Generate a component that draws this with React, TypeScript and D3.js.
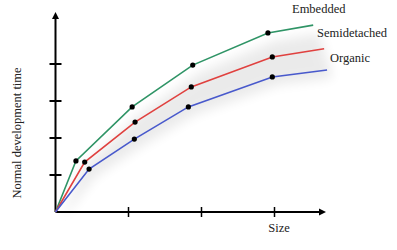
import React from "react";
import * as d3 from "d3";

const xTicks = [1, 2, 3];
const yTicks = [1, 2, 3, 4];
const seriesNames = ["Embedded", "Semidetached", "Organic"];
const embeddedX = [0, 0.28, 1.05, 1.88, 2.91, 3.53];
const embeddedY = [0, 1.38, 2.84, 3.97, 4.84, 5.05];
const semiX = [0, 0.4, 1.09, 1.86, 2.97, 3.68];
const semiY = [0, 1.35, 2.43, 3.38, 4.19, 4.41];
const organicX = [0, 0.46, 1.08, 1.82, 2.97, 3.72];
const organicY = [0, 1.16, 1.97, 2.84, 3.65, 3.84];
const colors = ["#2f9466", "#e0413f", "#4859cc"];
const xLabel = "Size";
const yLabel = "Normal development time";

export default function App() {
  const W = 397, H = 250;
  const x = d3.scaleLinear().domain([0, 4]).range([55.5, 347.5]);
  const y = d3.scaleLinear().domain([0, 4]).range([212, 64]);
  const series = [
    { name: seriesNames[0], xs: embeddedX, ys: embeddedY, color: colors[0] },
    { name: seriesNames[1], xs: semiX, ys: semiY, color: colors[1] },
    { name: seriesNames[2], xs: organicX, ys: organicY, color: colors[2] },
  ];
  const line = d3.line<[number, number]>().x((d) => x(d[0])).y((d) => y(d[1]));
  const pts = (s: any) => s.xs.map((v: number, i: number) => [v, s.ys[i]] as [number, number]);
  const top = pts(series[0]);
  const bot = pts(series[2]);
  const shadowPts = [...top, ...bot.slice().reverse()].map((p) => [x(p[0]) + 6, y(p[1]) + 8]);
  const shadowPath = "M" + shadowPts.map((p) => p.join(",")).join("L") + "Z";
  const font = "'Liberation Serif', 'Times New Roman', serif";
  const labelPos = [
    { x: 292, y: 13 },
    { x: 317, y: 37 },
    { x: 330, y: 62 },
  ];
  const x0 = x(0), y0 = y(0);
  return (
    <svg width={W} height={H} style={{ position: "absolute", left: 0, top: 0 }}>
      <defs>
        <filter id="blur" x="-20%" y="-20%" width="140%" height="140%">
          <feGaussianBlur stdDeviation="6" />
        </filter>
      </defs>
      <rect width={W} height={H} fill="#fff" />
      <path d={shadowPath} fill="#000" opacity={0.08} filter="url(#blur)" />
      <line x1={x0 + 3} y1={y0 + 4} x2={330} y2={y0 + 4} stroke="#000" strokeWidth={6} opacity={0.06} filter="url(#blur)" />
      {/* axes */}
      <line x1={x0} y1={y0} x2={x0} y2={17} stroke="#000" strokeWidth={2} />
      <path d={`M${x0 - 3.5},${19} L${x0},${12} L${x0 + 3.5},${19} Z`} fill="#000" />
      <line x1={x0} y1={y0} x2={321} y2={y0} stroke="#000" strokeWidth={2} />
      <path d={`M${319},${y0 - 3.5} L${326},${y0} L${319},${y0 + 3.5} Z`} fill="#000" />
      {yTicks.map((t) => (
        <line key={"yt" + t} x1={x0 - 6} x2={x0 + 6} y1={y(t)} y2={y(t)} stroke="#000" strokeWidth={2} />
      ))}
      {xTicks.map((t) => (
        <line key={"xt" + t} x1={x(t)} x2={x(t)} y1={y0 - 5} y2={y0 + 5} stroke="#000" strokeWidth={1.5} />
      ))}
      {series.map((s) => (
        <path key={s.name} d={line(pts(s)) || ""} fill="none" stroke={s.color} strokeWidth={1.6} />
      ))}
      {series.map((s) =>
        pts(s).slice(1, -1).map((p: [number, number], i: number) => (
          <circle key={s.name + i} cx={x(p[0])} cy={y(p[1])} r={2.6} fill="#000" />
        ))
      )}
      {series.map((s, i) => (
        <text key={"l" + s.name} x={labelPos[i].x} y={labelPos[i].y} fontFamily={font} fontSize={12.5} fill="#222">
          {s.name}
        </text>
      ))}
      <text x={279} y={232} textAnchor="middle" fontFamily={font} fontSize={12.5} fill="#222">{xLabel}</text>
      <text transform={`translate(21,133) rotate(-90)`} textAnchor="middle" fontFamily={font} fontSize={12.5} fill="#222">{yLabel}</text>
    </svg>
  );
}
